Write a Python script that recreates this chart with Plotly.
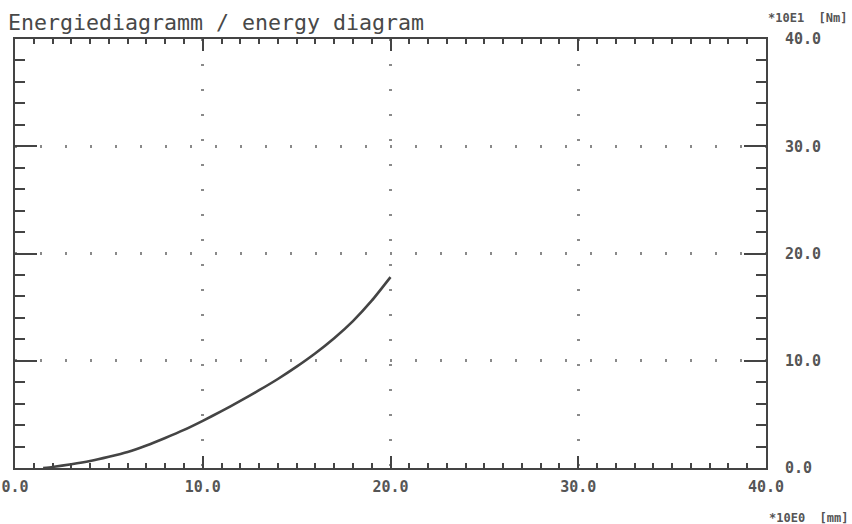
"""Energy diagram (Energiediagramm) recreated as a Plotly chart."""

import plotly.graph_objects as go

# travel [*10E0 mm] and energy [*10E1 Nm]
travel = [1.5, 2, 3, 4, 5, 6, 7, 8, 9, 10, 11, 12, 13, 14, 15, 16, 17, 18, 19, 20]
energy = [0.0, 0.1, 0.35, 0.65, 1.05, 1.5, 2.1, 2.8, 3.55, 4.4,
          5.3, 6.25, 7.25, 8.3, 9.45, 10.7, 12.1, 13.7, 15.6, 17.8]

tick_vals = [0, 10, 20, 30, 40]
tick_text = ["0.0", "10.0", "20.0", "30.0", "40.0"]

title_text = "Energiediagramm / energy diagram"
y_unit = "*10E1  [Nm]"
x_unit = "*10E0  [mm]"

ink = "#444444"
text_col = "#555555"
mono = "DejaVu Sans Mono"

fig = go.Figure()
fig.add_trace(
    go.Scatter(
        x=travel,
        y=energy,
        mode="lines",
        line=dict(color=ink, width=2.6, shape="spline", smoothing=0.5),
        showlegend=False,
    )
)

axis_common = dict(
    range=[0, 40],
    tickvals=tick_vals,
    ticktext=tick_text,
    ticks="inside",
    mirror="ticks",
    showline=True,
    linecolor=ink,
    linewidth=2,
    tickcolor=ink,
    tickwidth=2,
    showgrid=True,
    gridcolor="#8a8a8a",
    gridwidth=2.5,
    griddash="2px,23px",
    zeroline=False,
    automargin=False,
    tickfont=dict(family=mono, size=15, color=text_col, weight="bold"),
)

fig.update_xaxes(
    **axis_common,
    ticklen=12,
    ticklabelstandoff=4,
    minor=dict(dtick=1, ticks="inside", ticklen=5, tickcolor=ink, tickwidth=2, showgrid=False),
)
fig.update_yaxes(
    **axis_common,
    side="right",
    ticklen=22,
    ticklabelstandoff=14,
    minor=dict(dtick=2, ticks="inside", ticklen=10, tickcolor=ink, tickwidth=2, showgrid=False),
)

fig.add_annotation(
    text=y_unit, xref="paper", yref="paper", x=1.11, y=1.05,
    xanchor="right", yanchor="middle", showarrow=False,
    font=dict(family=mono, size=12, color=text_col, weight="bold"),
)
fig.add_annotation(
    text=x_unit, xref="paper", yref="paper", x=1.112, y=-0.117,
    xanchor="right", yanchor="middle", showarrow=False,
    font=dict(family=mono, size=12, color=text_col, weight="bold"),
)

fig.update_layout(
    width=852,
    height=524,
    title=dict(
        text=title_text,
        x=8 / 852, xanchor="left", xref="container",
        y=1 - 22 / 524, yanchor="middle", yref="container",
        font=dict(family=mono, size=21.6, color="#484848"),
    ),
    paper_bgcolor="white",
    plot_bgcolor="white",
    margin=dict(l=15, r=86, t=39, b=56),
)

# drop the default 8px page margin so the figure fills the window exactly
fig.write_html(
    "out.html",
    config={"displayModeBar": False},
    post_script="document.body.style.margin = '0';",
)
